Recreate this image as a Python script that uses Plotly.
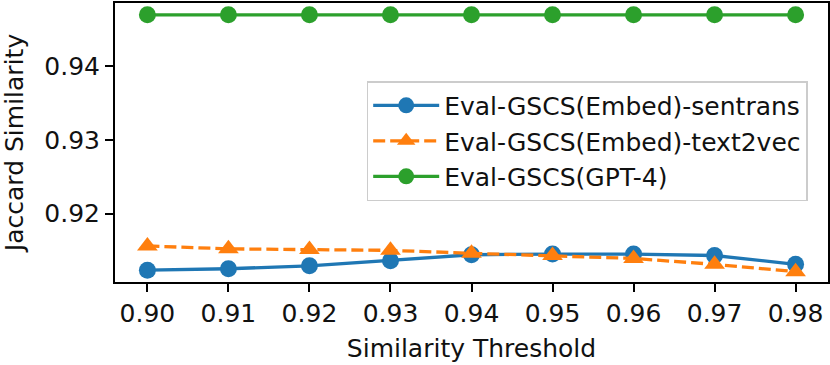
import plotly.graph_objects as go

thresholds = [0.90, 0.91, 0.92, 0.93, 0.94, 0.95, 0.96, 0.97, 0.98]
sentrans = [0.9123, 0.9125, 0.9129, 0.9136, 0.9144, 0.9145, 0.9145, 0.9143, 0.9131]
text2vec = [0.9156, 0.9152, 0.9151, 0.9150, 0.9146, 0.9143, 0.9139, 0.9131, 0.9121]
gpt4 = [0.9470, 0.9470, 0.9470, 0.9470, 0.9470, 0.9470, 0.9470, 0.9470, 0.9470]

x_ticks = [0.90, 0.91, 0.92, 0.93, 0.94, 0.95, 0.96, 0.97, 0.98]
y_ticks = [0.92, 0.93, 0.94]

FONT = "DejaVu Sans"
TXT = "#111111"
fig = go.Figure()
fig.add_trace(go.Scatter(x=thresholds, y=sentrans, mode="lines+markers",
                         name="Eval-GSCS(Embed)-sentrans",
                         line=dict(color="#1f77b4", width=3.3),
                         marker=dict(symbol="circle", size=17, color="#1f77b4")))
fig.add_trace(go.Scatter(x=thresholds, y=text2vec, mode="lines+markers",
                         name="Eval-GSCS(Embed)-text2vec",
                         line=dict(color="#ff7f0e", width=3.3, dash="12px,5px"),
                         marker=dict(symbol="triangle-up", size=18, color="#ff7f0e")))
fig.add_trace(go.Scatter(x=thresholds, y=gpt4, mode="lines+markers",
                         name="Eval-GSCS(GPT-4)",
                         line=dict(color="#2ca02c", width=3.3),
                         marker=dict(symbol="circle", size=17, color="#2ca02c")))

axis_common = dict(showline=True, linecolor="black", linewidth=2, mirror=True,
                   ticks="outside", ticklen=8, tickwidth=2, tickcolor="black",
                   showgrid=False, zeroline=False, automargin=False,
                   tickfont=dict(family=FONT, size=25, color=TXT))

fig.update_layout(
    width=830, height=365,
    margin=dict(l=115, r=2, t=3, b=83),
    paper_bgcolor="white", plot_bgcolor="white",
    font=dict(family=FONT, size=25, color=TXT),
    xaxis=dict(range=[0.896, 0.984], tickvals=x_ticks, tickformat=".2f",
               title=dict(text="Similarity Threshold", font=dict(family=FONT, size=25, color=TXT), standoff=12),
               **axis_common),
    yaxis=dict(range=[0.9107, 0.9486], tickvals=y_ticks, tickformat=".2f",
               title=dict(text="Jaccard Similarity", font=dict(family=FONT, size=25, color=TXT), standoff=22),
               **axis_common),
    legend=dict(x=0.353, y=0.72, xanchor="left", yanchor="top",
                bgcolor="rgba(255,255,255,0.8)", bordercolor="#cccccc", borderwidth=1.5,
                font=dict(family=FONT, size=25, color=TXT),
                itemwidth=66, tracegroupgap=0),
    showlegend=True,
)

fig.write_html("out.html", config={"displayModeBar": False},
               post_script="document.body.style.margin='0';")
